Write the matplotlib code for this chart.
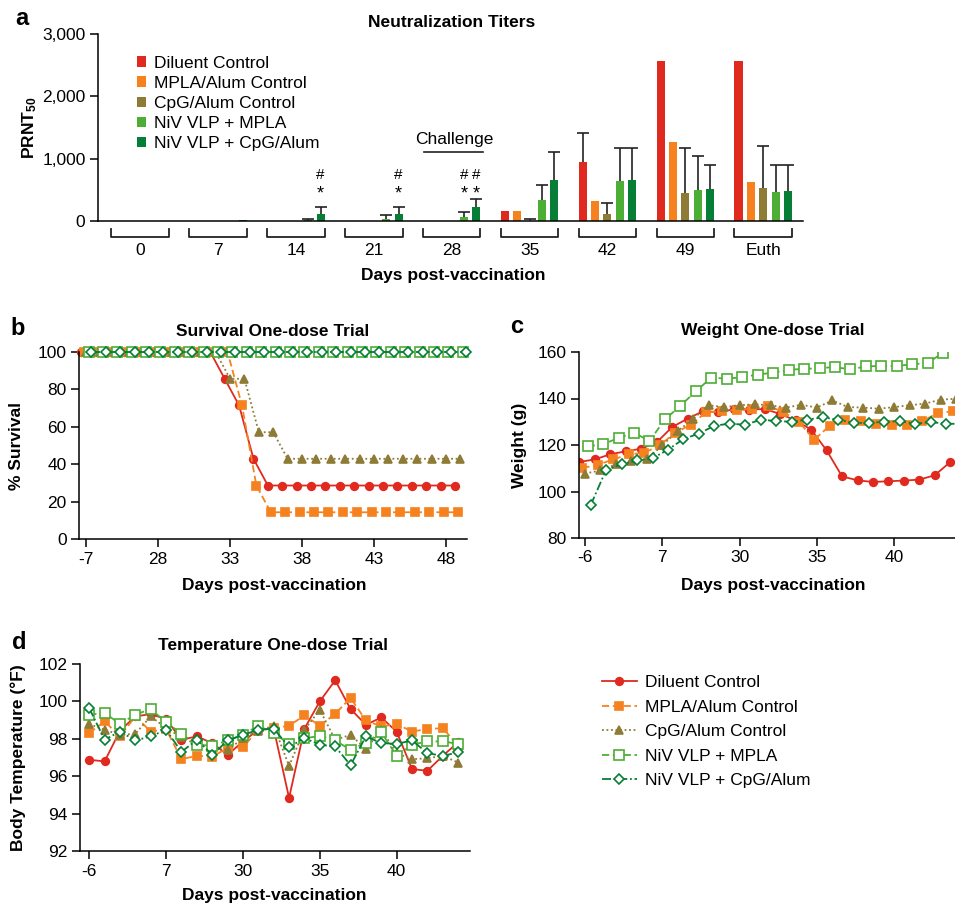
import numpy as np
import matplotlib.pyplot as plt
import matplotlib.transforms as mtransforms
from matplotlib.ticker import FuncFormatter

plt.rcParams['font.family'] = ['Liberation Sans', 'DejaVu Sans']
plt.rcParams['font.size'] = 12.5
plt.rcParams['mathtext.default'] = 'regular'
plt.rcParams['axes.linewidth'] = 1.1
plt.rcParams['xtick.major.width'] = 1.1
plt.rcParams['ytick.major.width'] = 1.1
plt.rcParams['xtick.major.size'] = 6
plt.rcParams['ytick.major.size'] = 6

# groups and colours
groups = ["Diluent Control", "MPLA/Alum Control", "CpG/Alum Control",
          "NiV VLP + MPLA", "NiV VLP + CpG/Alum"]
colors = ['#E02A1F', '#F5821F', '#8E7B35', '#4DAE35', '#067E36']

# panel a - neutralization titers (bar value, top of error bar)
titer_days = ["0", "7", "14", "21", "28", "35", "42", "49", "Euth"]
titer_diluent = [0, 0, 0, 0, 0, 155, 952, 2560, 2560]
titer_mpla = [0, 0, 0, 0, 0, 155, 316, 1273, 631]
titer_cpg = [0, 0, 0, 0, 0, 8, 112, 449, 529]
titer_niv_mpla = [0, 0, 20, 32, 64, 337, 642, 492, 460]
titer_niv_cpg = [0, 10, 118, 118, 219, 658, 658, 519, 481]
nan = np.nan
top_diluent = [nan, nan, nan, nan, nan, nan, 1412, nan, nan]
top_mpla = [nan, nan, nan, nan, nan, nan, nan, nan, nan]
top_cpg = [nan, nan, nan, nan, nan, 30, 294, 1166, 1198]
top_niv_mpla = [nan, nan, 30, 96, 139, 572, 1176, 1043, 893]
top_niv_cpg = [nan, nan, 225, 225, 348, 1112, 1166, 904, 904]
# groups marked with # and * (index into titer_days, series index)
marked = [(2, 4), (3, 4), (4, 3), (4, 4)]

# panel b - survival
surv_ticks = ["-7", "28", "33", "38", "43", "48"]
surv_diluent = [100, 100, 100, 100, 100, 100, 100, 100, 100, 100, 85.7, 71.4, 42.9,
                28.6, 28.6, 28.6, 28.6, 28.6, 28.6, 28.6, 28.6, 28.6, 28.6, 28.6, 28.6, 28.6, 28.6]
surv_mpla = [100, 100, 100, 100, 100, 100, 100, 100, 100, 100, 100, 71.4, 28.6,
             14.3, 14.3, 14.3, 14.3, 14.3, 14.3, 14.3, 14.3, 14.3, 14.3, 14.3, 14.3, 14.3, 14.3]
surv_cpg = [100, 100, 100, 100, 100, 100, 100, 100, 100, 100, 85.7, 85.7, 57.1, 57.1,
            42.9, 42.9, 42.9, 42.9, 42.9, 42.9, 42.9, 42.9, 42.9, 42.9, 42.9, 42.9, 42.9]
surv_niv_mpla = [100, 100, 100, 100, 100, 100, 100, 100, 100, 100, 100, 100, 100, 100,
                 100, 100, 100, 100, 100, 100, 100, 100, 100, 100, 100, 100, 100]
surv_niv_cpg = [100, 100, 100, 100, 100, 100, 100, 100, 100, 100, 100, 100, 100, 100,
                100, 100, 100, 100, 100, 100, 100, 100, 100, 100, 100, 100, 100]

# panel c - weight (g)
wt_ticks = ["-6", "7", "30", "35", "40"]
wt_diluent = [112.7, 113.8, 116, 117.3, 118.4, 121.1, 127.7, 131.3, 134.5, 134.2, 135.3, 135.2, 135.5,
              133.3, 130.6, 126.6, 117.7, 106.5, 104.8, 104.1, 104.4, 104.7, 105.1, 107, 112.7]
wt_mpla = [110.1, 111.5, 113.8, 116, 116.6, 119.9, 125.2, 128.7, 134, 134.5, 135.2, 135.5, 136.9,
           134.2, 130, 122.3, 128.3, 130.9, 130.2, 128.9, 128.6, 128.7, 130.3, 133.8, 134.5]
wt_cpg = [107.7, 109.1, 111.7, 113.1, 113.8, 119.9, 126, 131.3, 137.1, 136.3, 137.1, 137.5, 137.1,
          136.1, 137.3, 136.1, 139.2, 136.3, 136.1, 135.6, 136.3, 137.1, 137.8, 139.5, 139.9]
wt_niv_mpla = [119.4, 120.4, 123, 125.3, 121.7, 131, 136.9, 143.1, 149, 148.5, 149.2, 150.3,
               151.1, 152.4, 152.7, 153.1, 153.5, 152.5, 153.8, 154, 154, 154.7, 155.3, 159.7]
wt_niv_cpg = [94.2, 109.4, 111.7, 113.4, 114.3, 118, 122.6, 124.9, 128.3, 129.2, 128.7, 130.9, 130.3,
              130, 130.9, 131.9, 130.9, 129.5, 129.5, 130, 130.2, 129.2, 129.8, 129.2, 129.0]

# panel d - body temperature (F)
tp_ticks = ["-6", "7", "30", "35", "40"]
tp_diluent = [96.88, 96.79, 98.43, 99.2, 99.32, 99.05, 97.95, 98.13, 97.77, 97.14, 97.86, 98.48, 98.55,
              94.84, 98.54, 100, 101.13, 99.59, 98.75, 99.14, 98.38, 96.38, 96.29, 97.09, 97.82]
tp_mpla = [98.3, 98.93, 98.13, 99.2, 98.39, 98.52, 96.91, 97.09, 97.05, 97.5, 97.55, 98.48, 98.57,
           98.7, 99.25, 98.7, 99.34, 100.18, 98.98, 98.66, 98.79, 98.39, 98.52, 98.57, 97.63]
tp_cpg = [98.79, 98.48, 98.21, 98.27, 99.2, 98.57, 98.09, 97.68, 97.63, 97.38, 98.04, 98.43, 98.7,
          96.55, 98.48, 99.55, 97.95, 98.21, 97.45, 98.48, 97.23, 96.91, 96.96, 97.09, 96.73]
tp_niv_mpla = [99.29, 99.38, 98.8, 99.29, 99.59, 98.88, 98.27, 97.68, 97.63, 97.91, 98.21, 98.7, 98.3,
               97.73, 98.02, 98.16, 97.91, 97.41, 97.8, 98.34, 97.09, 97.68, 97.86, 97.86, 97.73]
tp_niv_cpg = [99.64, 97.95, 98.39, 97.91, 98.13, 98.48, 97.3, 97.95, 97.14, 97.91, 98.21, 98.48, 98.55,
              97.55, 98.04, 97.68, 97.59, 96.59, 98.13, 97.77, 97.73, 97.91, 97.23, 97.09, 97.27]

# line styles for panels b-d
line_styles = ['-', (0, (4, 2)), (0, (1, 1.5)), (0, (4, 2)), (0, (5, 1.5, 1, 1.5))]
markers = ['o', 's', '^', 's', 'D']
marker_sizes = [5.5, 5.5, 6, 6.5, 5]
filled = [True, True, True, False, False]

W, H = 955, 906
fig = plt.figure(figsize=(W / 100, H / 100), dpi=100)


def add_px(left, top, right, bottom):
    return fig.add_axes([left / W, 1 - bottom / H, (right - left) / W, (bottom - top) / H])


def style_axes(ax):
    ax.spines['top'].set_visible(False)
    ax.spines['right'].set_visible(False)
    ax.tick_params(direction='out', labelsize=12.5, pad=3)


def draw_lines(ax, series, shift=None, clip=True):
    handles = []
    for k, ys in enumerate(series):
        x = np.arange(len(ys), dtype=float)
        if shift is not None:
            x = x + shift[k]
        c = colors[k]
        ln, = ax.plot(x, ys, ls=line_styles[k], color=c, lw=1.3, marker=markers[k],
                      ms=marker_sizes[k], mec=c, mew=1.2,
                      mfc=c if filled[k] else 'white', label=groups[k], clip_on=clip)
        handles.append(ln)
    return handles


# ---------------- a ----------------
ax = add_px(98, 34, 803, 221)
style_axes(ax)
titers = [titer_diluent, titer_mpla, titer_cpg, titer_niv_mpla, titer_niv_cpg]
tops = [top_diluent, top_mpla, top_cpg, top_niv_mpla, top_niv_cpg]
xc = np.arange(len(titer_days))
step, bw = 0.159, 0.103
offs = (np.arange(5) - 2) * step
for k in range(5):
    x = xc + offs[k]
    v = np.array(titers[k], float)
    t = np.array(tops[k], float)
    ax.bar(x, v, width=bw, color=colors[k], label=groups[k], zorder=2)
    m = ~np.isnan(t)
    if m.any():
        eb = ax.errorbar(x[m], v[m], yerr=[np.zeros(m.sum()), t[m] - v[m]], fmt='none',
                         ecolor='#222222', elinewidth=1.2, capsize=4, capthick=1.2, zorder=3)
        # only the upper cap, as in a one-sided error bar
        eb[1][0].set_visible(False)
for gi, si in marked:
    ax.text(xc[gi] + offs[si], 369, '*', ha='center', va='baseline', fontsize=13)
    ax.text(xc[gi] + offs[si], 666, '#', ha='center', va='baseline', fontsize=11)
ax.text(xc[4] + 0.03, 1235, 'Challenge', ha='center', va='baseline')
ax.plot([xc[4] - 0.36, xc[4] + 0.40], [1107, 1107], color='#222222', lw=1.2, clip_on=False)

blend = mtransforms.blended_transform_factory(ax.transData, ax.transAxes)
half = 2 * step + bw / 2
for c in xc:
    ax.plot([c - half, c - half, c + half, c + half], [-0.043, -0.086, -0.086, -0.043],
            transform=blend, color='#222222', lw=1.3, clip_on=False)
ax.set_xlim(-0.54, 8.51)
ax.set_ylim(0, 3000)
ax.set_yticks([0, 1000, 2000, 3000])
ax.yaxis.set_major_formatter(FuncFormatter(lambda v, p: f"{int(v):,}"))
ax.set_xticks(xc, titer_days)
ax.tick_params(axis='x', length=0, pad=16)
ax.set_ylabel('PRNT$_{50}$', fontweight='bold', va='center')
ax.yaxis.set_label_coords(-0.097, 0.5)
ax.set_xlabel('Days post-vaccination', fontweight='bold', va='center')
ax.xaxis.set_label_coords(0.504, -0.294)
ax.text(0.502, 1.064, 'Neutralization Titers', transform=ax.transAxes, ha='center',
        va='center', fontweight='bold')
ax.legend(loc='upper left', bbox_to_anchor=(0.055, 0.885), frameon=False, handlelength=0.55,
          handleheight=0.55, handletextpad=0.45, labelspacing=0.3, borderpad=0, borderaxespad=0)

shift = [-0.37, -0.17, 0, 0.17, 0.37]

# ---------------- b ----------------
ax = add_px(79, 352, 467, 539)
style_axes(ax)
draw_lines(ax, [surv_diluent, surv_mpla, surv_cpg, surv_niv_mpla, surv_niv_cpg], shift, clip=False)
ax.set_xlim(-0.49, 26.46)
ax.set_ylim(0, 100)
ax.set_yticks([0, 20, 40, 60, 80, 100])
ax.set_xticks(np.arange(len(surv_ticks)) * 5, surv_ticks)
ax.set_ylabel('% Survival', fontweight='bold', va='center')
ax.yaxis.set_label_coords(-0.16, 0.5)
ax.set_xlabel('Days post-vaccination', fontweight='bold', va='center')
ax.xaxis.set_label_coords(0.503, -0.251)
ax.text(0.5, 1.112, 'Survival One-dose Trial', transform=ax.transAxes, ha='center',
        va='center', fontweight='bold')

# ---------------- c ----------------
ax = add_px(579, 352, 990, 538)
style_axes(ax)
draw_lines(ax, [wt_diluent, wt_mpla, wt_cpg, wt_niv_mpla, wt_niv_cpg], shift)
ax.set_xlim(-0.39, 26.2)
ax.set_ylim(80, 160)
ax.set_yticks([80, 100, 120, 140, 160])
ax.set_xticks(np.arange(len(wt_ticks)) * 5, wt_ticks)
ax.set_ylabel('Weight (g)', fontweight='bold', va='center')
ax.yaxis.set_label_coords(-0.145, 0.5)
ax.set_xlabel('Days post-vaccination', fontweight='bold', va='center')
ax.xaxis.set_label_coords(0.472, -0.253)
ax.text(0.472, 1.113, 'Weight One-dose Trial', transform=ax.transAxes, ha='center',
        va='center', fontweight='bold')

# ---------------- d ----------------
ax = add_px(80, 664, 470, 851)
style_axes(ax)
handles = draw_lines(ax, [tp_diluent, tp_mpla, tp_cpg, tp_niv_mpla, tp_niv_cpg])
ax.set_xlim(-0.6, 24.77)
ax.set_ylim(92, 102)
ax.set_yticks([92, 94, 96, 98, 100, 102])
ax.set_xticks(np.arange(len(tp_ticks)) * 5, tp_ticks)
ax.set_ylabel('Body Temperature (°F)', fontweight='bold', va='center')
ax.yaxis.set_label_coords(-0.159, 0.5)
ax.set_xlabel('Days post-vaccination', fontweight='bold', va='center')
ax.xaxis.set_label_coords(0.497, -0.24)
ax.text(0.495, 1.10, 'Temperature One-dose Trial', transform=ax.transAxes, ha='center',
        va='center', fontweight='bold')

fig.legend(handles, groups, loc='upper left', bbox_to_anchor=(602 / W, 1 - 675 / H),
           frameon=False, handlelength=2.0, handletextpad=0.5, labelspacing=0.54,
           borderpad=0, borderaxespad=0)

# panel letters
for letter, lx, ly in [('a', 15, 25), ('b', 10, 335), ('c', 510, 333), ('d', 12, 649)]:
    fig.text(lx / W, 1 - ly / H, letter, fontsize=17, fontweight='bold', va='baseline')

fig.savefig('out.png', dpi=100)
